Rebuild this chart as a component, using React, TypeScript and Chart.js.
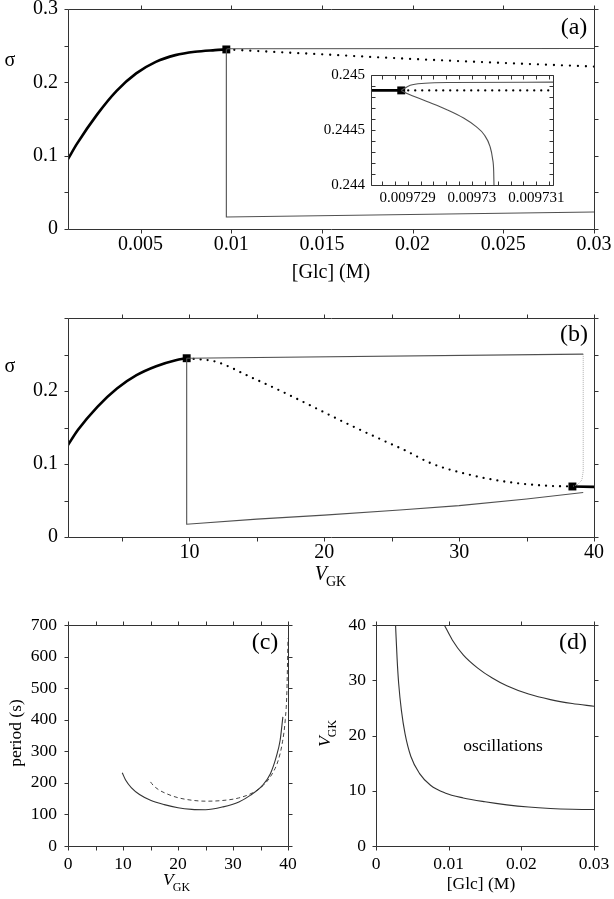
import React, { useEffect, useRef } from "react";
import { Chart, registerables } from "chart.js";

Chart.register(...registerables);

const FONT = '"Liberation Serif", "Times New Roman", Times, serif';
const PAGE_W = 614;
const PAGE_H = 899;
const AXIS_W = 50;
const AXIS_H = 50;

// ---------------- Panel (a): sigma vs [Glc] ----------------
const aStableGlc = [0.001, 0.0015, 0.0026, 0.00368, 0.00476, 0.00584, 0.00692, 0.008, 0.0091, 0.009729];
const aStableSigma = [0.0954, 0.1164, 0.156, 0.1884, 0.2122, 0.2279, 0.2371, 0.2417, 0.2439, 0.24486];
const aUnstableGlc = [0.009729, 0.0125, 0.015, 0.0175, 0.02, 0.025, 0.03];
const aUnstableSigma = [0.24486, 0.2413, 0.2382, 0.2349, 0.2318, 0.2264, 0.2215];
const aMaxGlc = [0.009729, 0.0098, 0.03];
const aMaxSigma = [0.24486, 0.2458, 0.2462];
const aMinGlc = [0.009729, 0.0097303, 0.0097304, 0.03];
const aMinSigma = [0.24486, 0.244, 0.0164, 0.0232];
const aHopfGlc = [0.009729];
const aHopfSigma = [0.24486];
const aXTicks = [0.005, 0.01, 0.015, 0.02, 0.025, 0.03];
const aXLabels = ["0.005", "0.01", "0.015", "0.02", "0.025", "0.03"];
const aYTicks = [0, 0.05, 0.1, 0.15, 0.2, 0.25, 0.3];
const aYLabels = ["0", "", "0.1", "", "0.2", "", "0.3"];

// ---------------- Inset of (a) ----------------
const iStableGlc = [0.0097284, 0.0097289];
const iStableSigma = [0.24486, 0.24486];
const iUnstableGlc = [0.0097289, 0.0097313];
const iUnstableSigma = [0.24486, 0.24486];
const iMaxGlc = [0.0097289, 0.00972904, 0.00972927, 0.00972966, 0.0097313];
const iMaxSigma = [0.24486, 0.244907, 0.244925, 0.244932, 0.244935];
const iMinGlc = [0.0097289, 0.00972899, 0.0097293, 0.00972961, 0.00972987, 0.00973006, 0.00973019, 0.00973028, 0.00973032, 0.009730338, 0.0097303425];
const iMinSigma = [0.24486, 0.244832, 0.24476, 0.244685, 0.244609, 0.244533, 0.244457, 0.244351, 0.24424, 0.24412, 0.24399];
const iHopfGlc = [0.0097289];
const iHopfSigma = [0.24486];
const iXTicks = [0.0097286, 0.0097288, 0.009729, 0.0097292, 0.0097294, 0.0097296, 0.0097298, 0.00973, 0.0097302, 0.0097304, 0.0097306, 0.0097308, 0.009731, 0.0097312];
const iXLabels = ["", "", "0.009729", "", "", "", "", "0.00973", "", "", "", "", "0.009731", ""];
const iYTicks = [0.244, 0.2441, 0.2442, 0.2443, 0.2444, 0.2445, 0.2446, 0.2447, 0.2448, 0.2449, 0.245];
const iYLabels = ["0.244", "", "", "", "", "0.2445", "", "", "", "", "0.245"];

// ---------------- Panel (b): sigma vs V_GK ----------------
const bStableV = [1, 1.73, 3.18, 4.63, 6.08, 7.54, 8.99, 9.8];
const bStableSigma = [0.126, 0.1466, 0.1784, 0.2035, 0.2217, 0.234, 0.2422, 0.2449];
const bUnstableV = [9.8, 12, 14.5, 16.9, 19.4, 21.9, 24.4, 26, 27.9, 30.8, 33.7, 36.6, 38.4];
const bUnstableSigma = [0.2449, 0.2399, 0.2194, 0.1989, 0.1762, 0.1534, 0.132, 0.1186, 0.1011, 0.0851, 0.0751, 0.0701, 0.0692];
const bStable2V = [38.4, 40];
const bStable2Sigma = [0.0692, 0.0687];
const bMaxV = [9.8, 39.2];
const bMaxSigma = [0.2449, 0.2505];
const bMinV = [9.8, 9.8, 15, 20, 25.6, 30, 35, 39.2];
const bMinSigma = [0.2449, 0.0175, 0.0245, 0.03, 0.037, 0.043, 0.052, 0.061];
const bHomV = [39.2, 39.2, 39.1, 38.8, 38.4];
const bHomSigma = [0.2505, 0.09, 0.078, 0.072, 0.0692];
const bHopfV = [9.8, 38.4];
const bHopfSigma = [0.2449, 0.0692];
const bXTicks = [5, 10, 15, 20, 25, 30, 35, 40];
const bXLabels = ["", "10", "", "20", "", "30", "", "40"];
const bYTicks = [0, 0.05, 0.1, 0.15, 0.2, 0.25, 0.3];
const bYLabels = ["0", "", "0.1", "", "0.2", "", ""];

// ---------------- Panel (c): period vs V_GK ----------------
const cSolidV = [9.86, 10.5, 11.5, 13, 15, 17.5, 20, 22.5, 25, 28.2, 31.07, 33.2, 35.36, 36.8, 37.86, 38.57, 39.07];
const cSolidPeriod = [232, 208, 185, 163, 145, 131, 121, 116, 115, 124, 139.5, 161, 192, 229, 282, 335, 409];
const cDashedV = [15, 15.5, 16.5, 18, 20, 22.5, 25, 28, 31, 33.5, 35.5, 37, 38.2, 39, 39.5, 39.8, 40];
const cDashedPeriod = [203, 192, 178, 165, 153, 145, 142, 144, 152, 168, 192, 225, 270, 330, 400, 490, 658];
const cXTicks = [0, 5, 10, 15, 20, 25, 30, 35, 40];
const cXLabels = ["0", "", "10", "", "20", "", "30", "", "40"];
const cYTicks = [0, 100, 200, 300, 400, 500, 600, 700];
const cYLabels = ["0", "100", "200", "300", "400", "500", "600", "700"];

// ---------------- Panel (d): V_GK vs [Glc] ----------------
const dLowerGlc = [0.00269, 0.0029, 0.00312, 0.0035, 0.004, 0.0048, 0.006, 0.0075, 0.0095, 0.012, 0.015, 0.018, 0.021, 0.024, 0.027, 0.03];
const dLowerV = [40, 34, 29.4, 24.5, 20.3, 16.2, 13.1, 11.0, 9.6, 8.7, 8.0, 7.45, 7.05, 6.8, 6.66, 6.6];
const dUpperGlc = [0.0094, 0.0105, 0.012, 0.014, 0.016, 0.018, 0.021, 0.024, 0.027, 0.03];
const dUpperV = [40, 37.3, 34.6, 32.2, 30.4, 29.0, 27.5, 26.5, 25.8, 25.3];
const dXTicks = [0, 0.01, 0.02, 0.03];
const dXLabels = ["0", "0.01", "0.02", "0.03"];
const dYTicks = [0, 10, 20, 30, 40];
const dYLabels = ["0", "10", "20", "30", "40"];

const pts = (xs: number[], ys: number[]) => xs.map((x, i) => ({ x, y: ys[i] }));

const THIN = "#505050";

const thick = (xs: number[], ys: number[]) => ({
  data: pts(xs, ys), borderColor: "#000", borderWidth: 2.6, pointRadius: 0,
  cubicInterpolationMode: "monotone" as const, fill: false,
});
const thin = (xs: number[], ys: number[], smooth = true, color = THIN, width = 1.1) => ({
  data: pts(xs, ys), borderColor: color, borderWidth: width, pointRadius: 0,
  cubicInterpolationMode: smooth ? ("monotone" as const) : ("default" as const), tension: 0, fill: false,
});
const dotted = (xs: number[], ys: number[], gap = 7) => ({
  data: pts(xs, ys), borderColor: "#000", borderWidth: 2.3, pointRadius: 0,
  borderDash: [0, gap], borderCapStyle: "round" as const,
  cubicInterpolationMode: "monotone" as const, fill: false,
});
const dashed = (xs: number[], ys: number[]) => ({
  data: pts(xs, ys), borderColor: "#444", borderWidth: 1, pointRadius: 0,
  borderDash: [4, 3], cubicInterpolationMode: "monotone" as const, fill: false,
});
const squares = (xs: number[], ys: number[], r = 5.6) => ({
  data: pts(xs, ys), showLine: false, pointStyle: "rect", pointRadius: r,
  pointBackgroundColor: "#000", pointBorderColor: "#000", pointBorderWidth: 0, clip: false,
});

type TextSpec = {
  text: string; sub?: string; x: number; y: number; size: number;
  italic?: boolean; rotate?: boolean; align?: CanvasTextAlign;
};

type AxisSpec = { min: number; max: number; ticks: number[]; labels: string[] };

type PanelSpec = {
  area: { left: number; top: number; right: number; bottom: number };
  x: AxisSpec; y: AxisSpec;
  fontSize: number; xPad: number; yPad: number;
  tickLen: number; inward: boolean; whiteBg?: boolean;
  datasets: any[];
  texts: TextSpec[];
};

const framePlugin = {
  id: "frameTicks",
  beforeDatasetsDraw(chart: any, _a: any, opts: any) {
    if (!opts.whiteBg) return;
    const { ctx, chartArea: a } = chart;
    ctx.save();
    ctx.fillStyle = "#fff";
    ctx.fillRect(a.left, a.top, a.right - a.left, a.bottom - a.top);
    ctx.restore();
  },
  afterDraw(chart: any, _a: any, opts: any) {
    const { ctx, chartArea: a } = chart;
    const xs = chart.scales.x;
    const ys = chart.scales.y;
    const L = Math.round(a.left) + 0.5;
    const R = Math.round(a.right) + 0.5;
    const T = Math.round(a.top) + 0.5;
    const B = Math.round(a.bottom) + 0.5;
    const len = opts.inward ? -opts.tickLen : opts.tickLen;
    ctx.save();
    ctx.strokeStyle = "#333";
    ctx.lineWidth = 1;
    ctx.beginPath();
    ctx.rect(L, T, R - L, B - T);
    xs.ticks.forEach((t: any) => {
      const p = Math.round(xs.getPixelForValue(t.value)) + 0.5;
      if (p < L - 1 || p > R + 1) return;
      ctx.moveTo(p, B); ctx.lineTo(p, B + len);
      ctx.moveTo(p, T); ctx.lineTo(p, T - len);
    });
    ys.ticks.forEach((t: any) => {
      const p = Math.round(ys.getPixelForValue(t.value)) + 0.5;
      if (p < T - 1 || p > B + 1) return;
      ctx.moveTo(L, p); ctx.lineTo(L - len, p);
      ctx.moveTo(R, p); ctx.lineTo(R + len, p);
    });
    ctx.stroke();
    ctx.restore();
  },
};

const textPlugin = {
  id: "panelTexts",
  afterDraw(chart: any, _a: any, opts: any) {
    const ctx: CanvasRenderingContext2D = chart.ctx;
    (opts.items || []).forEach((t: TextSpec) => {
      ctx.save();
      ctx.translate(t.x, t.y);
      if (t.rotate) ctx.rotate(-Math.PI / 2);
      ctx.fillStyle = "#000";
      ctx.textBaseline = "middle";
      if (!t.sub) {
        ctx.font = `${t.italic ? "italic " : ""}${t.size}px ${FONT}`;
        ctx.textAlign = t.align || "center";
        ctx.fillText(t.text, 0, 0);
      } else {
        const mainFont = `italic ${t.size}px ${FONT}`;
        const subSize = Math.round(t.size * 0.7);
        const subFont = `${subSize}px ${FONT}`;
        ctx.font = mainFont;
        const w1 = ctx.measureText(t.text).width;
        ctx.font = subFont;
        const w2 = ctx.measureText(t.sub).width;
        const start = -(w1 + w2) / 2;
        ctx.textAlign = "left";
        ctx.textBaseline = "alphabetic";
        ctx.font = mainFont;
        ctx.fillText(t.text, start, t.size * 0.3);
        ctx.font = subFont;
        ctx.fillText(t.sub, start + w1 - t.size * 0.05, t.size * 0.3 + t.size * 0.3);
      }
      ctx.restore();
    });
  },
};

const makeScale = (ax: AxisSpec, isX: boolean, size: number, pad: number) => ({
  type: "linear" as const,
  min: ax.min,
  max: ax.max,
  grid: { display: false, drawTicks: false },
  border: { display: false },
  ticks: {
    autoSkip: false,
    maxRotation: 0,
    minRotation: 0,
    padding: pad,
    color: "#000",
    font: { family: FONT, size },
    callback: (_v: any, i: number) => ax.labels[i],
  },
  afterBuildTicks: (s: any) => {
    s.ticks = ax.ticks.map((v) => ({ value: v }));
  },
  afterFit: (s: any) => {
    if (isX) s.height = AXIS_H; else s.width = AXIS_W;
    s.paddingLeft = 0; s.paddingRight = 0; s.paddingTop = 0; s.paddingBottom = 0;
  },
});

const panels: PanelSpec[] = [
  {
    area: { left: 68, top: 9, right: 594, bottom: 229 },
    x: { min: 0.001, max: 0.03, ticks: aXTicks, labels: aXLabels },
    y: { min: 0, max: 0.3, ticks: aYTicks, labels: aYLabels },
    fontSize: 20, xPad: 4, yPad: 10, tickLen: 4, inward: false,
    datasets: [
      thin(aMaxGlc, aMaxSigma, false),
      thin(aMinGlc, aMinSigma, false),
      thick(aStableGlc, aStableSigma),
      dotted(aUnstableGlc, aUnstableSigma, 8),
      squares(aHopfGlc, aHopfSigma),
    ],
    texts: [
      { text: "σ", x: 10, y: 61, size: 20 },
      { text: "[Glc] (M)", x: 331, y: 273, size: 20 },
      { text: "(a)", x: 574, y: 28, size: 24 },
    ],
  },
  {
    area: { left: 371, top: 75, right: 553, bottom: 185 },
    x: { min: 0.00972843, max: 0.00973126, ticks: iXTicks, labels: iXLabels },
    y: { min: 0.244, max: 0.245, ticks: iYTicks, labels: iYLabels },
    fontSize: 15, xPad: 4, yPad: 6, tickLen: 4, inward: true, whiteBg: true,
    datasets: [
      thin(iMaxGlc, iMaxSigma, true),
      thin(iMinGlc, iMinSigma, true),
      thick(iStableGlc, iStableSigma),
      dotted(iUnstableGlc, iUnstableSigma, 7),
      squares(iHopfGlc, iHopfSigma),
    ],
    texts: [],
  },
  {
    area: { left: 68, top: 318, right: 594, bottom: 537 },
    x: { min: 1, max: 40, ticks: bXTicks, labels: bXLabels },
    y: { min: 0, max: 0.3, ticks: bYTicks, labels: bYLabels },
    fontSize: 20, xPad: 4, yPad: 10, tickLen: 4, inward: false,
    datasets: [
      thin(bMaxV, bMaxSigma, false),
      thin(bMinV, bMinSigma, false),
      { ...thin(bHomV, bHomSigma, false, "#9a9a9a", 0.8), borderDash: [1, 1] },
      thick(bStableV, bStableSigma),
      thick(bStable2V, bStable2Sigma),
      dotted(bUnstableV, bUnstableSigma, 7),
      squares(bHopfV, bHopfSigma),
    ],
    texts: [
      { text: "σ", x: 10, y: 367, size: 20 },
      { text: "V", sub: "GK", x: 331, y: 574, size: 20 },
      { text: "(b)", x: 574, y: 335, size: 24 },
    ],
  },
  {
    area: { left: 68, top: 625, right: 288, bottom: 846 },
    x: { min: 0, max: 40, ticks: cXTicks, labels: cXLabels },
    y: { min: 0, max: 700, ticks: cYTicks, labels: cYLabels },
    fontSize: 17.5, xPad: 8, yPad: 11, tickLen: 4, inward: false,
    datasets: [
      thin(cSolidV, cSolidPeriod, true, "#333", 1.1),
      dashed(cDashedV, cDashedPeriod),
    ],
    texts: [
      { text: "period (s)", x: 16, y: 733, size: 17.5, rotate: true },
      { text: "V", sub: "GK", x: 177, y: 880, size: 17.5 },
      { text: "(c)", x: 265, y: 643, size: 24 },
    ],
  },
  {
    area: { left: 376, top: 625, right: 594, bottom: 846 },
    x: { min: 0, max: 0.03, ticks: dXTicks, labels: dXLabels },
    y: { min: 0, max: 40, ticks: dYTicks, labels: dYLabels },
    fontSize: 17.5, xPad: 8, yPad: 10, tickLen: 4, inward: false,
    datasets: [
      thin(dLowerGlc, dLowerV, true, "#333", 1.1),
      thin(dUpperGlc, dUpperV, true, "#333", 1.1),
    ],
    texts: [
      { text: "V", sub: "GK", x: 325, y: 733, size: 17.5, rotate: true },
      { text: "[Glc] (M)", x: 481, y: 884, size: 17.5 },
      { text: "(d)", x: 573, y: 643, size: 24 },
      { text: "oscillations", x: 503, y: 746, size: 17.5 },
    ],
  },
];

function Panel({ spec }: { spec: PanelSpec }) {
  const ref = useRef<HTMLCanvasElement | null>(null);
  useEffect(() => {
    if (!ref.current) return;
    const a = spec.area;
    const chart = new Chart(ref.current, {
      type: "line",
      data: { datasets: spec.datasets as any },
      options: {
        responsive: false,
        animation: false,
        devicePixelRatio: 1,
        events: [],
        parsing: false as any,
        layout: {
          padding: {
            left: a.left - AXIS_W,
            top: a.top,
            right: PAGE_W - a.right,
            bottom: PAGE_H - a.bottom - AXIS_H,
          },
        },
        plugins: {
          legend: { display: false },
          tooltip: { enabled: false },
          frameTicks: { tickLen: spec.tickLen, inward: spec.inward, whiteBg: !!spec.whiteBg },
          panelTexts: { items: spec.texts },
        } as any,
        scales: {
          x: makeScale(spec.x, true, spec.fontSize, spec.xPad) as any,
          y: makeScale(spec.y, false, spec.fontSize, spec.yPad) as any,
        },
      },
      plugins: [framePlugin as any, textPlugin as any],
    });
    return () => chart.destroy();
  }, [spec]);
  return (
    <canvas
      ref={ref}
      width={PAGE_W}
      height={PAGE_H}
      style={{ position: "absolute", left: 0, top: 0, width: PAGE_W, height: PAGE_H }}
    />
  );
}

export default function App() {
  return (
    <div style={{ position: "absolute", left: 0, top: 0, width: PAGE_W, height: PAGE_H, background: "#fff" }}>
      {panels.map((p, i) => (
        <Panel key={i} spec={p} />
      ))}
    </div>
  );
}
